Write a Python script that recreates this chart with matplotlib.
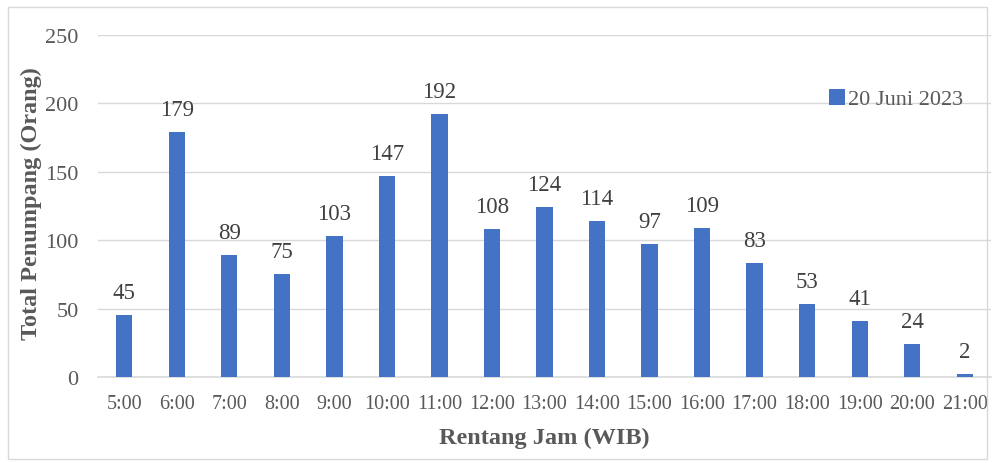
import matplotlib.pyplot as plt
import numpy as np

jam = ["5:00", "6:00", "7:00", "8:00", "9:00", "10:00", "11:00", "12:00", "13:00",
       "14:00", "15:00", "16:00", "17:00", "18:00", "19:00", "20:00", "21:00"]
penumpang = [45, 179, 89, 75, 103, 147, 192, 108, 124, 114, 97, 109, 83, 53, 41, 24, 2]
yticks = [0, 50, 100, 150, 200, 250]

plt.rcParams['font.family'] = ['Liberation Serif', 'DejaVu Serif']
grey = "#595959"

fig = plt.figure(figsize=(9.95, 4.64), dpi=100)
ax = fig.add_axes([98 / 995, 1 - 378 / 464, (991 - 98) / 995, (378 - 36) / 464])

x = np.arange(len(jam))
ax.bar(x, penumpang, width=0.31, color="#4472C4", zorder=3, label="20 Juni 2023")
for xi, v in zip(x, penumpang):
    ax.annotate(str(v), (xi, v), xytext=(0, 12.5), textcoords="offset points",
                ha="center", va="baseline", fontsize=16.5, color="#404040")

ax.set_xlim(-0.5, len(jam) - 0.5)
ax.set_ylim(0, 250)
ax.set_yticks(yticks)
ax.set_xticks(x)
ax.set_xticklabels(jam)
ax.tick_params(axis="both", length=0, colors=grey)
ax.tick_params(axis="x", pad=12, labelsize=14.5)
ax.tick_params(axis="y", pad=14, labelsize=16)
ax.grid(axis="y", color="#D9D9D9", linewidth=1, zorder=0)
for s in ["top", "right", "left"]:
    ax.spines[s].set_visible(False)
ax.spines["bottom"].set_color("#D9D9D9")
ax.spines["bottom"].set_linewidth(1.2)

ax.set_ylabel("Total Penumpang (Orang)", fontsize=17.5, fontweight="bold", color=grey)
ax.set_xlabel("Rentang Jam (WIB)", fontsize=17.5, fontweight="bold", color=grey)
ax.yaxis.set_label_coords(-56 / 893, 0.509)
ax.xaxis.set_label_coords(0.5, -50 / 342)

leg = ax.legend(loc="center left", bbox_to_anchor=((829 - 98) / 893, (378 - 100) / 342),
                frameon=False, fontsize=16, handlelength=0.72, handleheight=0.72,
                handletextpad=0.15, borderpad=0, borderaxespad=0)
for t in leg.get_texts():
    t.set_color(grey)

# thin frame around the whole chart
fig.add_artist(plt.Rectangle((8 / 995, 4 / 464), 1 - 16 / 995, 1 - 12 / 464, transform=fig.transFigure,
                             fill=False, edgecolor="#D9D9D9", linewidth=1))

fig.savefig("out.png", dpi=100)
